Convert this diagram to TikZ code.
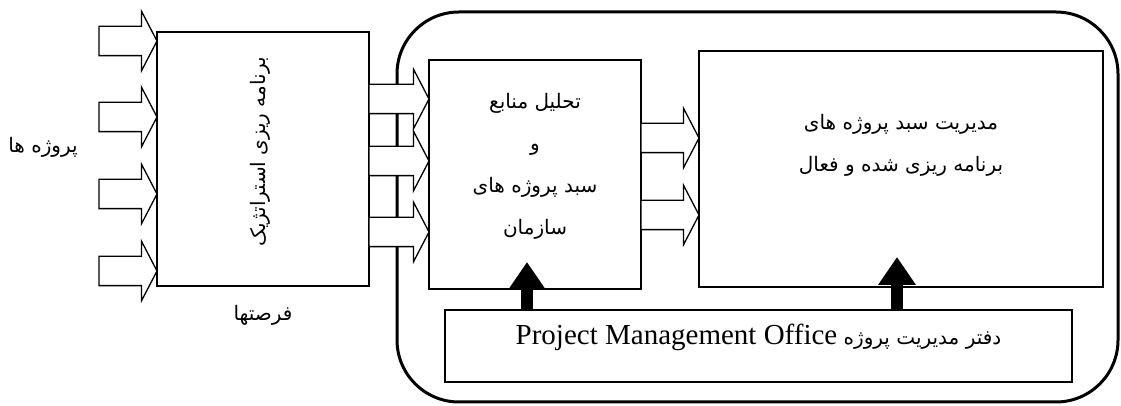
\documentclass[tikz,border=0pt]{standalone}
\usepackage{fontspec}
\setmainfont{Liberation Serif}
\newfontfamily\arabicfont[Script=Arabic]{DejaVu Sans}
\TeXXeTstate=1
\usepackage{tikz}
\usetikzlibrary{shapes.arrows, arrows.meta, positioning, calc}

\begin{document}
\begin{tikzpicture}[
  x=1pt, y=1pt,
  fa/.style={font=\arabicfont\fontsize{20}{42}\selectfont, align=center},
  box/.style={draw, line width=1.3pt, inner sep=0pt, outer sep=0pt},
  frame/.style={draw, line width=3pt, rounded corners=62pt, inner sep=0pt, outer sep=0pt},
  blockarr/.style={single arrow, draw, fill=white, line width=1.3pt, inner xsep=0pt, inner ysep=14pt,
    outer sep=0pt, single arrow head extend=15pt, single arrow tip angle=125},
  thickarr/.style={line width=12pt, -{Triangle[width=36pt, length=28pt]}},
]
\useasboundingbox (0,0) rectangle (1121,406);
% organisation frame
\node[frame, minimum width=721pt, minimum height=390pt] (org) at (757.5,199) {};
% boxes
\node[box, minimum width=212pt, minimum height=254pt] (plan) at (263,247) {};
\node[box, minimum width=212pt, minimum height=229pt] (mid) at (535,231.5) {};
\node[box, minimum width=404pt, minimum height=236pt] (act) at (901,237) {};
\node[box, minimum width=627pt, minimum height=72pt] (pmo) at (758.5,60) {};
% inputs
\foreach \dy [count=\i] in {118,42,-35,-112}
  \node[blockarr, minimum height=58pt, anchor=tip] (in\i) at ($(plan.west)+(0,\dy)$) {};
% plan -> mid
\foreach \dy [count=\i] in {60,-2,-73}
  \node[blockarr, minimum height=60pt, anchor=tail] (pm\i) at ($(plan.east)+(0,\dy)$) {};
% mid -> act
\foreach \dy [count=\i] in {31,-46}
  \node[blockarr, minimum height=58pt, anchor=tip] (ma\i) at ($(act.west)+(0,\dy)$) {};
% pmo support
\draw[thickarr] ($(pmo.north -| mid.south)+(-8,0)$) -- ($(mid.south)+(-8,27)$);
\draw[thickarr] ($(pmo.north -| act.south)+(-4,0)$) -- ($(act.south)+(-4,30)$);
% labels
\node[fa] (projs) at (43,259) {\beginR پروژه ها\endR};
\node[fa] (opps) at ($(plan.south)+(0,-29)$) {\beginR فرصتها\endR};
\node[fa, rotate=90] (plantxt) at ($(plan.center)+(-3,7)$) {\beginR برنامه ریزی استراتژیک\endR};
\node[fa] (midtxt) at ($(mid.center)+(0,8)$)
  {\beginR تحلیل منابع\endR\\ \beginR و\endR\\ \beginR سبد پروژه های\endR\\ \beginR سازمان\endR};
\node[fa] (acttxt) at ($(act.center)+(0,24)$)
  {\beginR مدیریت سبد پروژه های\endR\\ \beginR برنامه ریزی شده و فعال\endR};
\node[fa] (pmotxt) at ($(pmo.center)+(0,9)$)
  {\beginR دفتر مدیریت پروژه \beginL{\rmfamily\fontsize{29}{34}\selectfont Project Management Office}\endL\endR};
\end{tikzpicture}
\end{document}
